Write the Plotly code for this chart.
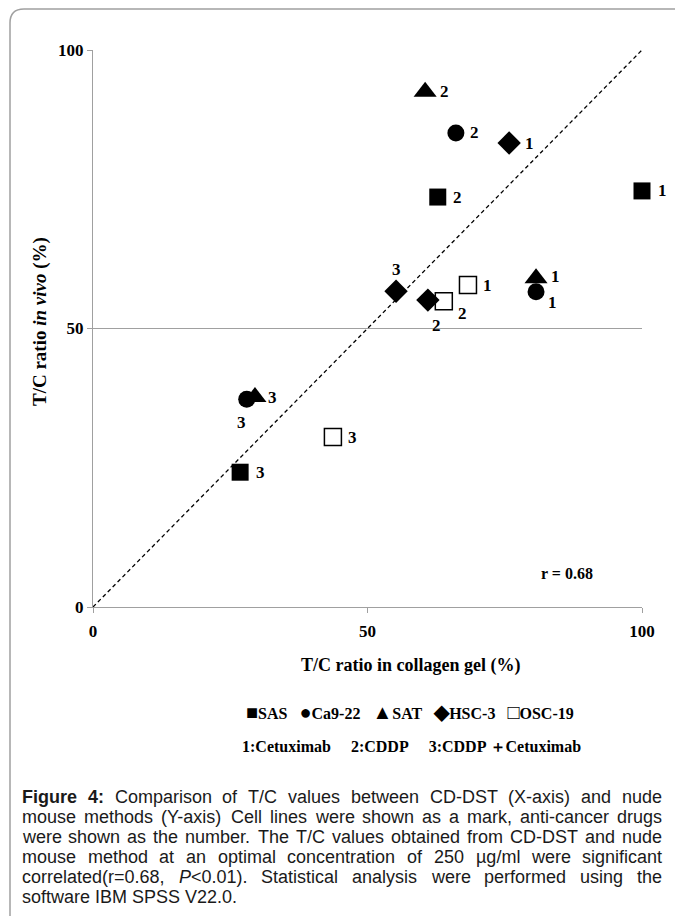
import plotly.graph_objects as go

# ---- data ----
cell_lines = ["SAS", "Ca9-22", "SAT", "HSC-3", "OSC-19"]
drug_ids = {
    "SAS":    ["1", "2", "3"],
    "Ca9-22": ["1", "2", "3"],
    "SAT":    ["1", "2", "3"],
    "HSC-3":  ["1", "2", "3"],
    "OSC-19": ["1", "2", "3"],
}
x_gel = {
    "SAS":    [100.0, 62.8, 26.8],
    "Ca9-22": [80.7, 66.1, 28.0],
    "SAT":    [80.7, 60.5, 29.5],
    "HSC-3":  [75.8, 61.0, 55.2],
    "OSC-19": [68.3, 63.9, 43.7],
}
y_vivo = {
    "SAS":    [74.7, 73.6, 24.2],
    "Ca9-22": [56.6, 85.1, 37.3],
    "SAT":    [59.0, 92.5, 37.7],
    "HSC-3":  [83.3, 55.1, 56.7],
    "OSC-19": [57.8, 54.9, 30.5],
}
tick_vals = [0, 50, 100]
drug_names = ["1:Cetuximab", "2:CDDP", "3:CDDP \uff0bCetuximab"]
r_text = "r = 0.68"

# ---- styles ----
symbols = {"SAS": "square", "Ca9-22": "circle", "SAT": "triangle-up",
           "HSC-3": "diamond", "OSC-19": "square-open"}
sizes = {"SAS": 17, "Ca9-22": 17, "SAT": 20, "HSC-3": 18, "OSC-19": 17}
label_offsets = {
    "SAS":    [(20, 0), (20, 0), (20, 0)],
    "Ca9-22": [(16, -11), (19, 0), (-5, -23)],
    "SAT":    [(19, 2), (19, 0), (18, 0)],
    "HSC-3":  [(20, 0), (9, -25), (0, 22)],
    "OSC-19": [(20, 0), (19, -12), (20, 0)],
}

SERIF = "Liberation Serif, Times New Roman, serif"
SANS = "Liberation Sans, Arial, sans-serif"

W, H = 675, 916
L, R, T, B = 93, 33, 50, 309
PW, PH = W - L - R, H - T - B


def px_x(px):
    return (px - L) / PW


def px_y(py):
    return (H - B - py) / PH


fig = go.Figure()

fig.add_trace(go.Scatter(x=[tick_vals[0], tick_vals[-1]], y=[tick_vals[0], tick_vals[-1]],
                         mode="lines", line=dict(color="black", width=1.3, dash="4px,3px"),
                         hoverinfo="skip", showlegend=False))

for cl in cell_lines:
    is_open = symbols[cl].endswith("open")
    fig.add_trace(go.Scatter(
        x=x_gel[cl], y=y_vivo[cl], mode="markers", name=cl, showlegend=False,
        cliponaxis=False,
        marker=dict(symbol=symbols[cl], size=sizes[cl], color="black",
                    line=dict(color="black", width=1.5 if is_open else 0)),
    ))
    for xv, yv, d, (dx, dy) in zip(x_gel[cl], y_vivo[cl], drug_ids[cl], label_offsets[cl]):
        fig.add_annotation(x=xv, y=yv, xref="x", yref="y", text=d, showarrow=False,
                           xshift=dx, yshift=dy, xanchor="center", yanchor="middle",
                           font=dict(family=SERIF, size=17, color="black", weight="bold"))


def txt(x, y, text, size, family=SERIF, weight="bold", xanchor="center", angle=0, color="black"):
    fig.add_annotation(x=px_x(x), y=px_y(y), xref="paper", yref="paper", text=text,
                       showarrow=False, xanchor=xanchor, yanchor="middle", textangle=angle,
                       font=dict(family=family, size=size, color=color, weight=weight))


txt(567, 573, r_text, 16)
txt(410, 665, "T/C ratio in collagen gel (%)", 18)
txt(40, 322, "T/C ratio <i>in vivo</i> (%)", 19, angle=-90)

# legend rows
marks = {"SAS": "\u25a0", "Ca9-22": "\u25cf", "SAT": "\u25b2", "HSC-3": "\u25c6", "OSC-19": "\u25a1"}
legend_txt = "\u2002 ".join(
    '<span style="font-size:20px">' + marks[c] + "</span>" + c for c in cell_lines)
txt(410, 712, legend_txt, 16)
drug_txt = "\u2003 ".join(drug_names)
txt(411, 746, drug_txt, 16)

# caption (justified using Arial/Liberation Sans metrics)
REG = {' ': 278, '(': 333, ')': 333, ',': 278, '-': 333, '.': 278, '/': 278, ':': 278,
       '<': 584, '=': 584, '\u00b5': 556,
       'A': 667, 'B': 667, 'C': 722, 'D': 722, 'E': 667, 'F': 611, 'G': 778, 'H': 722,
       'I': 278, 'J': 500, 'K': 667, 'L': 556, 'M': 833, 'N': 722, 'O': 778, 'P': 667,
       'Q': 778, 'R': 722, 'S': 667, 'T': 611, 'U': 722, 'V': 667, 'W': 944, 'X': 667,
       'Y': 667, 'Z': 611,
       'a': 556, 'b': 556, 'c': 500, 'd': 556, 'e': 556, 'f': 278, 'g': 556, 'h': 556,
       'i': 222, 'j': 222, 'k': 500, 'l': 222, 'm': 833, 'n': 556, 'o': 556, 'p': 556,
       'q': 556, 'r': 333, 's': 500, 't': 278, 'u': 556, 'v': 500, 'w': 722, 'x': 500,
       'y': 500, 'z': 500}
BOLD = {'F': 611, 'i': 278, 'g': 611, 'u': 611, 'r': 389, 'e': 556, '4': 556, ':': 333}


def wlen(word, size, bold=False):
    tab = BOLD if bold else REG
    return sum(tab.get(ch, 556) for ch in word) * size / 1000.0


caption_lines = [
    "Figure 4: Comparison of T/C values between CD-DST (X-axis) and nude",
    "mouse methods (Y-axis) Cell lines were shown as a mark, anti-cancer drugs",
    "were shown as the number. The T/C values obtained from CD-DST and nude",
    "mouse method at an optimal concentration of 250 \u00b5g/ml were significant",
    "correlated(r=0.68, P<0.01). Statistical analysis were performed using the",
    "software IBM SPSS V22.0.",
]
CAP_SIZE = 18
CAP_L, CAP_R = 20, 660
CAP_Y0, CAP_DY = 797, 20
for i, line in enumerate(caption_lines):
    words = line.split(" ")
    bold_flags = [i == 0 and j < 2 for j in range(len(words))]
    widths = [wlen(w, CAP_SIZE, b) for w, b in zip(words, bold_flags)]
    last = i == len(caption_lines) - 1
    gap = wlen(" ", CAP_SIZE) if last else (CAP_R - CAP_L - sum(widths)) / (len(words) - 1)
    xpos = CAP_L
    for w, b, wd in zip(words, bold_flags, widths):
        t = w.replace("<", "&lt;")
        t = t.replace("P&lt;", "<i>P</i>&lt;")
        if b:
            t = "<b>" + t + "</b>"
        txt(xpos, CAP_Y0 + i * CAP_DY, t, CAP_SIZE, family=SANS, weight="normal",
            xanchor="left", color="#1a1a1a")
        xpos += wd + gap

# outer rounded border
r = 14
fig.add_shape(type="path", xref="paper", yref="paper", layer="below",
              path=(f"M {px_x(10)} {px_y(960)} L {px_x(10)} {px_y(9 + r)} "
                    f"Q {px_x(10)} {px_y(9)} {px_x(10 + r)} {px_y(9)} L {px_x(700)} {px_y(9)}"),
              line=dict(color="#a0a0a0", width=1.5))

fig.update_layout(
    width=W, height=H, margin=dict(l=L, r=R, t=T, b=B),
    paper_bgcolor="white", plot_bgcolor="white", showlegend=False,
    xaxis=dict(range=[0, 100], tickvals=tick_vals, showgrid=False, zeroline=False,
               showline=True, linecolor="#a0a0a0", linewidth=1.3, ticks="outside", ticklen=5,
               tickcolor="#a0a0a0", ticklabelstandoff=3,
               tickfont=dict(family=SERIF, size=17, color="black", weight="bold")),
    yaxis=dict(range=[0, 100], tickvals=tick_vals, showgrid=True, gridcolor="#a0a0a0",
               gridwidth=1.3, zeroline=False, showline=True, linecolor="#a0a0a0", linewidth=1.3,
               ticks="outside", ticklen=5, tickcolor="#a0a0a0",
               tickfont=dict(family=SERIF, size=17, color="black", weight="bold")),
)

fig.write_html("out.html", config={"displayModeBar": False},
               post_script="document.body.style.margin='0';document.body.style.overflow='hidden';")
